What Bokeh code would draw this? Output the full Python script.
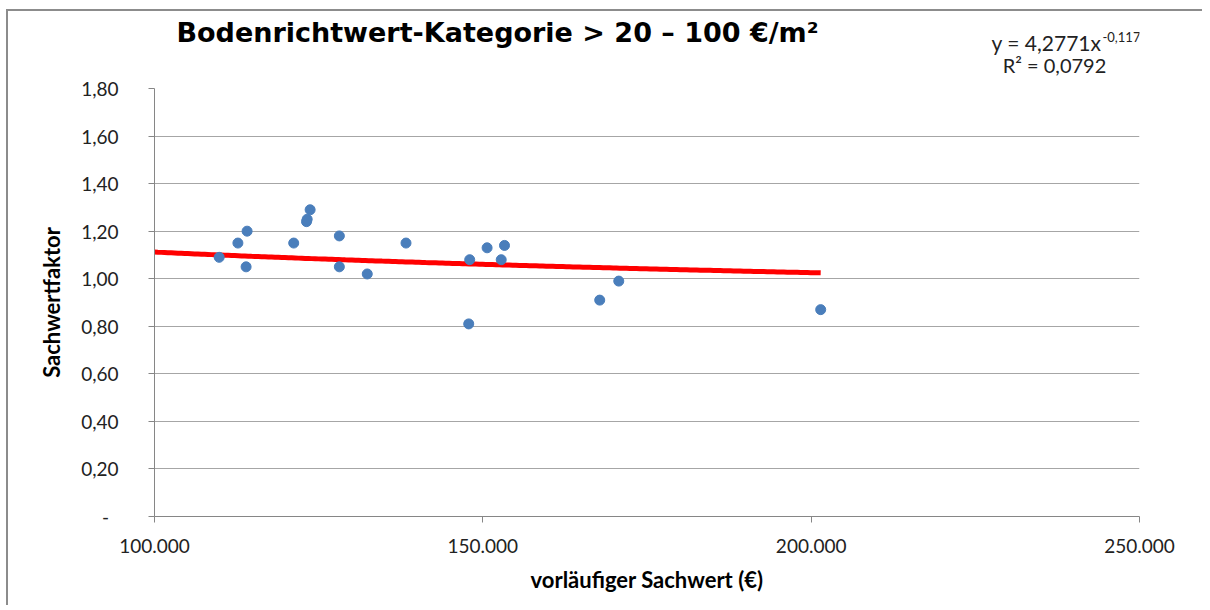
import numpy as np
from bokeh.plotting import figure
from bokeh.layouts import column
from bokeh.models import (ColumnDataSource, FixedTicker, CustomJSTickFormatter, Label, Range1d)
from bokeh.embed import file_html
from bokeh.resources import INLINE

# ---- data ----
sachwert = [109850, 112700, 114100, 113950, 121200, 123150, 123250, 123700,
            128150, 128150, 132400, 138300, 148000, 147850, 150650, 152800,
            153300, 167800, 170700, 201450]
faktor = [1.09, 1.15, 1.20, 1.05, 1.15, 1.24, 1.25, 1.29,
          1.18, 1.05, 1.02, 1.15, 1.08, 0.81, 1.13, 1.08,
          1.14, 0.91, 0.99, 0.87]

x_ticks = [100000, 150000, 200000, 250000]
y_ticks = [0.0, 0.2, 0.4, 0.6, 0.8, 1.0, 1.2, 1.4, 1.6, 1.8]

# power trendline y = a * x^b (as shown in the chart)
trend_a = 4.2771
trend_b = -0.117
trend_x_start = 100000
trend_x_end = 201450

title_text = "Bodenrichtwert-Kategorie > 20 \u2013 100 \u20ac/m\u00b2"
eq_main = "y = 4,2771x"
eq_exp = "-0,117"
r2_text = "R\u00b2 = 0,0792"
x_label = "vorl\u00e4ufiger Sachwert (\u20ac)"
y_label = "Sachwertfaktor"

FONT = "Lato"

# ---- header with title and trendline equation (frame aligned with the chart) ----
head = figure(width=1194, height=65, output_backend="svg", toolbar_location=None,
              x_range=Range1d(0, 1), y_range=Range1d(0, 1),
              x_axis_type=None, y_axis_type=None,
              min_border_left=146, min_border_right=63, min_border_top=0, min_border_bottom=0,
              background_fill_color="white", border_fill_color="white")
head.outline_line_color = None
head.xgrid.visible = False
head.ygrid.visible = False

head.add_layout(Label(x=343, y=44, x_units="screen", y_units="screen", text=title_text,
                      text_font="DejaVu Sans", text_font_style="bold", text_font_size="27px",
                      text_align="center", text_baseline="alphabetic", text_color="#000000"))
head.add_layout(Label(x=947, y=34, x_units="screen", y_units="screen", text=eq_main,
                      text_font=FONT, text_font_size="21px", text_align="right",
                      text_baseline="alphabetic", text_color="#222222"))
head.add_layout(Label(x=948, y=40, x_units="screen", y_units="screen", text=eq_exp,
                      text_font=FONT, text_font_size="13px", text_align="left",
                      text_baseline="alphabetic", text_color="#222222"))
head.add_layout(Label(x=900, y=12, x_units="screen", y_units="screen", text=r2_text,
                      text_font=FONT, text_font_size="20px", text_align="center",
                      text_baseline="alphabetic", text_color="#222222"))

# ---- main scatter chart ----
p = figure(width=1194, height=529, output_backend="svg", toolbar_location=None,
           x_range=Range1d(100000, 250000), y_range=Range1d(0, 1.8),
           min_border_left=146, min_border_right=63, min_border_top=12, min_border_bottom=89,
           background_fill_color="white", border_fill_color="white")
p.outline_line_color = None

p.xaxis.ticker = FixedTicker(ticks=x_ticks)
p.yaxis.ticker = FixedTicker(ticks=y_ticks)
p.xaxis.formatter = CustomJSTickFormatter(code="""
    return Math.round(tick).toString().replace(/\\B(?=(\\d{3})+(?!\\d))/g, '.');
""")
p.yaxis.formatter = CustomJSTickFormatter(code="""
    if (Math.abs(tick) < 1e-9) { return '-\u2002'; }
    return tick.toFixed(2).replace('.', ',');
""")
for ax in (p.xaxis, p.yaxis):
    ax.axis_line_color = "#868686"
    ax.major_tick_line_color = "#868686"
    ax.major_tick_out = 6
    ax.major_tick_in = 0
    ax.minor_tick_line_color = None
    ax.major_label_text_font = FONT
    ax.major_label_text_font_size = "19px"
    ax.major_label_text_color = "#222222"
    ax.axis_label_text_font = FONT
    ax.axis_label_text_font_size = "22px"
    ax.axis_label_text_font_style = "bold"
    ax.axis_label_text_color = "#000000"

p.xaxis.axis_label = x_label
p.yaxis.axis_label = y_label
p.xaxis.major_label_standoff = 16
p.xaxis.axis_label_standoff = 10
p.yaxis.major_label_standoff = 30
p.yaxis.axis_label_standoff = 13

p.xgrid.grid_line_color = None
p.ygrid.grid_line_color = "#a6a6a6"
p.ygrid.grid_line_width = 1

# trendline from the displayed coefficients
tx = np.linspace(trend_x_start, trend_x_end, 200)
ty = trend_a * tx ** trend_b
p.line(tx, ty, line_color="#ff0000", line_width=5)

src = ColumnDataSource(data=dict(x=sachwert, y=faktor))
p.scatter("x", "y", source=src, size=10, fill_color="#4a7ebb", line_color="#4a7ebb")

layout = column(head, p, spacing=0)
layout.styles = {"border-left": "2px solid #8c8c8c", "border-top": "2px solid #8c8c8c",
                 "margin-left": "6px", "margin-top": "9px"}

open("out.html", "w").write(file_html(layout, INLINE))
